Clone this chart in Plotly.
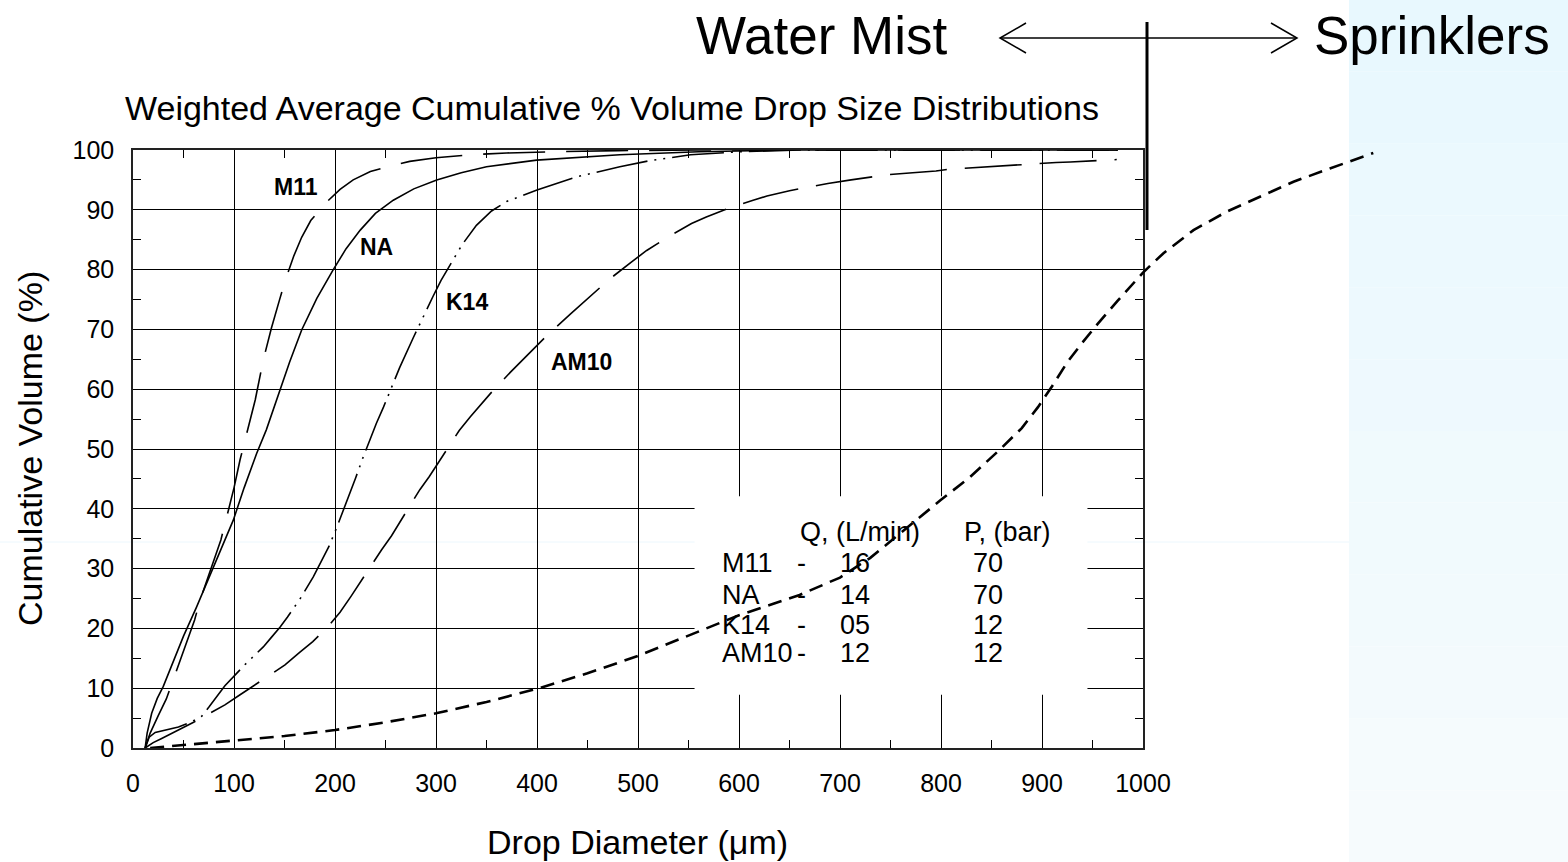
import plotly.graph_objects as go

# ---------------- data ----------------
m11_x = [12, 17, 25, 33, 40, 50, 61, 66, 77, 87, 92, 100, 106, 113, 121, 129, 137, 145, 151, 159,
         167, 176, 185, 193, 205, 218, 235, 254, 274, 300, 334, 370, 416, 480, 560, 975]
m11_y = [0, 2.5, 5.4, 8.2, 11.5, 16.2, 21.4, 24.5, 29.8, 34.8, 38.1, 43.5, 48.2, 53.0, 58.2, 64.9,
         70.2, 74.9, 78.3, 82.2, 85.4, 88.2, 90.0, 91.5, 93.4, 95.0, 96.4, 97.3, 98.1, 98.7, 99.2,
         99.5, 99.7, 99.9, 100, 100]

na_x = [12, 14, 18.5, 24, 30, 40, 50, 63, 79.5, 99.3, 110, 122.5, 132, 142, 155, 167, 182, 198,
        211, 225, 240, 257.7, 278, 300.7, 325, 350, 399.6, 482, 560, 650, 975]
na_y = [0, 2.5, 5.8, 8.3, 10.3, 14.5, 18.7, 23.6, 30.3, 38.1, 43.5, 49.3, 53.2, 58.2, 64.5, 69.9,
        75.2, 79.9, 83.5, 86.6, 89.4, 91.6, 93.5, 95.0, 96.2, 97.2, 98.3, 99.2, 99.7, 100, 100]

k14_x = [12, 16, 22, 32, 45, 57, 68, 75, 83, 91, 110, 129, 137, 145.5, 153, 166, 178.5, 186, 194,
         202, 210, 220.5, 228, 234.6, 241, 248, 256, 264, 277.5, 287, 297, 305, 313, 326, 340, 355,
         370, 400, 439, 482, 511, 552, 600, 660, 975]
k14_y = [0, 1.8, 2.6, 3.0, 3.5, 4.3, 5.3, 6.8, 8.6, 10.4, 13.8, 16.9, 18.5, 20.2, 21.9, 25.1, 28.6,
         31.0, 33.7, 37.0, 40.4, 45.2, 48.7, 51.6, 54.3, 57.0, 60.4, 63.6, 68.6, 72.1, 75.5, 78.2,
         80.5, 84.2, 87.4, 89.8, 91.4, 93.3, 95.5, 97.2, 98.2, 99.2, 99.7, 100, 100]

am10_x = [12, 20, 28.4, 45, 60, 75, 91, 106, 128, 150.5, 165, 178, 192, 205, 216, 231, 246, 256,
          270, 284, 293.4, 308, 323, 334, 354, 374, 388.8, 410, 432.7, 449, 471, 493.7, 508.6, 531,
          553, 567.6, 590, 614, 627.7, 650, 674, 688, 711, 735, 748.5, 772, 795, 808, 855, 868,
          914, 928, 974]
am10_y = [0, 0.9, 1.6, 3.0, 4.3, 5.7, 7.2, 8.9, 11.3, 13.9, 16.0, 17.8, 20.1, 22.7, 25.4, 29.3,
          33.1, 35.5, 39.3, 43.2, 45.4, 49.3, 53.1, 55.4, 59.3, 62.9, 65.4, 69.0, 72.5, 75.0, 78.3,
          81.3, 83.2, 85.6, 87.7, 88.8, 90.3, 91.6, 92.3, 93.2, 94.0, 94.4, 95.0, 95.5, 95.9, 96.2,
          96.5, 96.8, 97.3, 97.5, 97.9, 98.0, 98.4]

spr_x = [17, 30, 60, 100, 150, 200, 250, 300, 350, 400, 450, 500, 550, 600, 660, 700, 730, 762,
         800, 828, 857, 880, 896, 910, 925, 940, 954.5, 975, 1000, 1020, 1050, 1083, 1116, 1149,
         1185, 1228]
spr_y = [0, 0.2, 0.6, 1.2, 2.0, 3.0, 4.3, 5.8, 7.7, 9.9, 12.5, 15.4, 18.8, 22.2, 25.6, 28.5, 31.8,
         36.3, 41.5, 45.2, 49.7, 53.5, 57.0, 60.5, 64.5, 67.8, 70.8, 74.8, 79.5, 82.7, 86.6, 89.7,
         92.2, 94.7, 96.9, 99.5]

x_ticks = [0, 100, 200, 300, 400, 500, 600, 700, 800, 900, 1000]
y_ticks = [0, 10, 20, 30, 40, 50, 60, 70, 80, 90, 100]

curve_labels = ["M11", "NA", "K14", "AM10"]
curve_label_x = [161, 241, 331, 444]
curve_label_y = [93.8, 83.8, 74.5, 64.5]

tbl_names = ["M11", "NA", "K14", "AM10"]
tbl_flow = ["16", "14", "05", "12"]
tbl_press = ["70", "70", "12", "12"]
tbl_row_y = [30.9, 25.6, 20.6, 15.9]

# ---------------- layout geometry ----------------
W, H = 1568, 862
ML, MR, MT, MB = 133, 168, 150, 114
PW = W - ML - MR
PH = H - MT - MB
X1_FRAC = 1010 / PW           # subplot holding the 0-1000 frame
X2_MAX = 1000 / X1_FRAC       # same scale, wider area for sprinkler curve


def px(x):
    return (x - ML) / PW


def py(y):
    return (H - MB - y) / PH


FONT = "Arial, Liberation Sans, sans-serif"

fig = go.Figure()

dash_styles = {
    "M11": "62px,21px",
    "NA": "solid",
    "K14": "52px,7px,2px,7px,2px,7px",
    "AM10": "57px,18px",
}
for name, xs, ys in [("M11", m11_x, m11_y), ("NA", na_x, na_y),
                     ("K14", k14_x, k14_y), ("AM10", am10_x, am10_y)]:
    fig.add_trace(go.Scatter(x=xs, y=ys, mode="lines", name=name, showlegend=False,
                             line=dict(color="black", width=1.6, dash=dash_styles[name]),
                             xaxis="x", yaxis="y", hoverinfo="skip"))

fig.add_trace(go.Scatter(x=spr_x, y=spr_y, mode="lines", name="Sprinkler", showlegend=False,
                         line=dict(color="black", width=2.6, dash="14px,8px"),
                         xaxis="x2", yaxis="y2", hoverinfo="skip"))

axis_common = dict(showline=True, linecolor="#222", linewidth=1.5, mirror="ticks",
                   ticks="inside", tickcolor="black", tickwidth=1, ticklen=16,
                   showgrid=True, gridcolor="black", gridwidth=1, zeroline=False,
                   tickfont=dict(family=FONT, size=25, color="black"))

fig.update_layout(
    width=W, height=H,
    margin=dict(l=ML, r=MR, t=MT, b=MB, pad=0),
    paper_bgcolor="white", plot_bgcolor="rgba(0,0,0,0)",
    xaxis=dict(domain=[0, X1_FRAC], range=[0, 1000], anchor="y",
               tickvals=x_ticks, ticklabelstandoff=12,
               minor=dict(dtick=50, ticks="inside", ticklen=8, tickcolor="black", showgrid=False),
               **axis_common),
    yaxis=dict(domain=[0, 1], range=[0, 100], anchor="x",
               tickvals=y_ticks, ticklabelstandoff=12,
               minor=dict(dtick=5, ticks="inside", ticklen=8, tickcolor="black", showgrid=False),
               **axis_common),
    xaxis2=dict(domain=[0, 1], range=[0, X2_MAX], anchor="y2", visible=False,
                showgrid=False, zeroline=False),
    yaxis2=dict(domain=[0, 1], range=[0, 100], anchor="x2", visible=False,
                showgrid=False, zeroline=False),
)

shapes = []
# light blue side panel (approximate vertical gradient)
top_c = (232, 248, 254)
bot_c = (246, 251, 253)
n_band = 12
for i in range(n_band):
    t = i / (n_band - 1)
    c = tuple(round(top_c[k] + (bot_c[k] - top_c[k]) * t) for k in range(3))
    y0 = i * H / n_band
    y1 = (i + 1) * H / n_band
    shapes.append(dict(type="rect", xref="paper", yref="paper", layer="below",
                       x0=px(1349), x1=px(W), y0=py(y1), y1=py(y0),
                       fillcolor="rgb(%d,%d,%d)" % c, line=dict(width=0)))
shapes.append(dict(type="line", xref="paper", yref="paper", layer="below",
                   x0=px(0), x1=px(1349), y0=py(542), y1=py(542),
                   line=dict(color="#ECF7FD", width=1)))
# white box behind the table (hides grid)
shapes.append(dict(type="rect", xref="x", yref="y", layer="between",
                   x0=556, x1=945, y0=8.9, y1=42.1, fillcolor="white", line=dict(width=0)))
# arrow and divider
shapes.append(dict(type="line", xref="paper", yref="paper",
                   x0=px(1000), x1=px(1297), y0=py(38), y1=py(38),
                   line=dict(color="black", width=1.5)))
shapes.append(dict(type="path", xref="paper", yref="paper",
                   path="M %f %f L %f %f L %f %f" % (px(1026), py(23), px(1000), py(38), px(1026), py(53)),
                   line=dict(color="black", width=1.5)))
shapes.append(dict(type="path", xref="paper", yref="paper",
                   path="M %f %f L %f %f L %f %f" % (px(1271), py(23), px(1297), py(38), px(1271), py(53)),
                   line=dict(color="black", width=1.5)))
shapes.append(dict(type="line", xref="paper", yref="paper",
                   x0=px(1147), x1=px(1147), y0=py(22), y1=py(230),
                   line=dict(color="black", width=3)))
fig.update_layout(shapes=shapes)

ann = []
ann.append(dict(text="Water Mist", xref="paper", yref="paper", x=px(822), y=py(35),
                showarrow=False, xanchor="center", yanchor="middle",
                font=dict(family=FONT, size=53, color="black")))
ann.append(dict(text="Sprinklers", xref="paper", yref="paper", x=px(1432), y=py(35),
                showarrow=False, xanchor="center", yanchor="middle",
                font=dict(family=FONT, size=53, color="black")))
ann.append(dict(text="Weighted Average Cumulative % Volume Drop Size Distributions",
                xref="paper", yref="paper", x=px(612), y=py(108),
                showarrow=False, xanchor="center", yanchor="middle",
                font=dict(family=FONT, size=34, color="black")))
ann.append(dict(text="Cumulative Volume (%)", xref="paper", yref="paper", x=px(30), y=py(449),
                showarrow=False, xanchor="center", yanchor="middle", textangle=-90,
                font=dict(family=FONT, size=34, color="black")))
ann.append(dict(text="Drop Diameter (\u03bcm)", xref="paper", yref="paper", x=px(637), y=py(842),
                showarrow=False, xanchor="center", yanchor="middle",
                font=dict(family=FONT, size=34, color="black")))
for lab, lx, ly in zip(curve_labels, curve_label_x, curve_label_y):
    ann.append(dict(text="<b>%s</b>" % lab, xref="x", yref="y", x=lx, y=ly, showarrow=False,
                    xanchor="center", yanchor="middle",
                    font=dict(family=FONT, size=23, color="black")))
tf = dict(family=FONT, size=27, color="black")
ann.append(dict(text="Q, (L/min)", xref="x", yref="y", x=720, y=36.1, showarrow=False,
                xanchor="center", yanchor="middle", font=tf))
ann.append(dict(text="P, (bar)", xref="x", yref="y", x=866, y=36.1, showarrow=False,
                xanchor="center", yanchor="middle", font=tf))
for nm, q, p, ry in zip(tbl_names, tbl_flow, tbl_press, tbl_row_y):
    ann.append(dict(text=nm, xref="x", yref="y", x=581, y=ry, showarrow=False,
                    xanchor="left", yanchor="middle", font=tf))
    ann.append(dict(text="-", xref="x", yref="y", x=662, y=ry, showarrow=False,
                    xanchor="center", yanchor="middle", font=tf))
    ann.append(dict(text=q, xref="x", yref="y", x=715, y=ry, showarrow=False,
                    xanchor="center", yanchor="middle", font=tf))
    ann.append(dict(text=p, xref="x", yref="y", x=847, y=ry, showarrow=False,
                    xanchor="center", yanchor="middle", font=tf))
fig.update_layout(annotations=ann)

fig.write_html("out.html", config={"displayModeBar": False},
               post_script="document.body.style.margin='0';")
